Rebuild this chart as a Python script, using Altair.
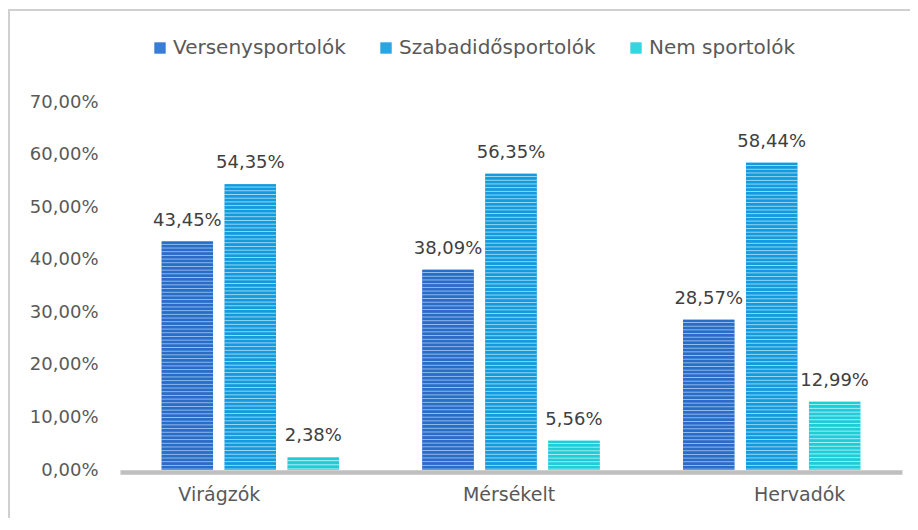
import altair as alt
import pandas as pd

# ---- data ----
categories = ["Virágzók", "Mérsékelt", "Hervadók"]
series = ["Versenysportolók", "Szabadidősportolók", "Nem sportolók"]
verseny = [43.45, 38.09, 28.57]
szabad = [54.35, 56.35, 58.44]
nem = [2.38, 5.56, 12.99]
y_ticks = [0, 10, 20, 30, 40, 50, 60, 70]

rows = []
for s, vals in zip(series, [verseny, szabad, nem]):
    for c, v in zip(categories, vals):
        rows.append({"category": c, "series": s, "value": v})
df = pd.DataFrame(rows)

# ---- styles ----
W, H = 782, 368
YMAX = 70
PERIOD = 3.7
FONT = "DejaVu Sans"
mid = {"Versenysportolók": "#3A7DD6", "Szabadidősportolók": "#27A6E4", "Nem sportolók": "#33D5DE"}
dark = {"Versenysportolók": "#2A6CC7", "Szabadidősportolók": "#149BDD", "Nem sportolók": "#1FCDD8"}
light = {"Versenysportolók": "#94BFF0", "Szabadidősportolók": "#9ADAF7", "Nem sportolók": "#A3F0F4"}


def stripes(d, l, n):
    stops = []
    for i in range(n):
        stops += [
            {"offset": i / n, "color": d},
            {"offset": (i + 0.5) / n, "color": d},
            {"offset": (i + 0.75) / n, "color": l},
            {"offset": (i + 1) / n, "color": d},
        ]
    return {"gradient": "linear", "x1": 0, "y1": 0, "x2": 0, "y2": 1, "stops": stops}


label_expr = "replace(format(datum.value, '.2f'), '.', ',') + '%'"

x_enc = alt.X(
    "category:N",
    sort=categories,
    title=None,
    scale=alt.Scale(paddingInner=0.32, paddingOuter=0.16),
    axis=alt.Axis(
        labelAngle=0,
        labelFont=FONT,
        labelFontSize=19,
        labelColor="#595959",
        labelPadding=13,
        ticks=False,
        domainColor="#BFBFBF",
        domainWidth=4.5,
        offset=2,
        labelOffset={
            "condition": [
                {"test": "datum.value === 'Virágzók'", "value": -31},
                {"test": "datum.value === 'Hervadók'", "value": 28},
            ],
            "value": -2,
        },
    ),
)
xo_enc = alt.XOffset("series:N", sort=series, scale=alt.Scale(paddingInner=0.185, paddingOuter=0))
y_enc = alt.Y(
    "value:Q",
    title=None,
    scale=alt.Scale(domain=[0, YMAX], nice=False),
    axis=alt.Axis(
        values=y_ticks,
        labelExpr=label_expr,
        labelFont=FONT,
        labelFontSize=18,
        labelColor="#595959",
        labelPadding=22,
        ticks=False,
        domain=False,
        grid=False,
    ),
)

base = alt.Chart(df)

bars = base.mark_bar().encode(
    x=x_enc,
    xOffset=xo_enc,
    y=y_enc,
    color=alt.Color(
        "series:N",
        sort=series,
        scale=alt.Scale(domain=series, range=[mid[s] for s in series]),
        legend=alt.Legend(
            title=None,
            orient="none",
            legendX=30,
            legendY=-64,
            direction="horizontal",
            symbolType="square",
            symbolSize=130,
            symbolStrokeWidth=0,
            labelFont=FONT,
            labelFontSize=20,
            labelColor="#595959",
            labelOffset=3,
            labelLimit=1000,
            columnPadding=30,
            padding=0,
        ),
    ),
)

layers = [bars]
for s in series:
    for c in categories:
        v = float(df[(df.series == s) & (df.category == c)].value.iloc[0])
        n = max(1, round(v / YMAX * H / PERIOD))
        layers.append(
            base.transform_filter(
                (alt.datum.series == s) & (alt.datum.category == c)
            ).mark_bar(color=stripes(dark[s], light[s], n)).encode(x=x_enc, xOffset=xo_enc, y=y_enc)
        )

labels = base.transform_calculate(
    label="replace(format(datum.value, '.2f'), '.', ',') + '%'"
).mark_text(font=FONT, fontSize=18, color="#404040", baseline="alphabetic", dy=-16).encode(
    x=x_enc, xOffset=xo_enc, y=y_enc, text="label:N"
)
layers.append(labels)

frame_data = alt.Data(values=[{"k": 0}])
frame = alt.Chart(frame_data).mark_rect(fill="transparent", stroke="#D0D0D0", strokeWidth=2).encode(
    x=alt.value(-111), x2=alt.value(820), y=alt.value(-92), y2=alt.value(460)
)
layers.append(frame)

chart = alt.layer(*layers).properties(
    width=W,
    height=H,
    background="white",
    padding={"left": 112, "top": 94, "right": 8, "bottom": 48},
    autosize=alt.AutoSizeParams(type="none"),
).configure_view(strokeWidth=0)

chart.save("out.html", embed_options={"renderer": "svg", "actions": False})
